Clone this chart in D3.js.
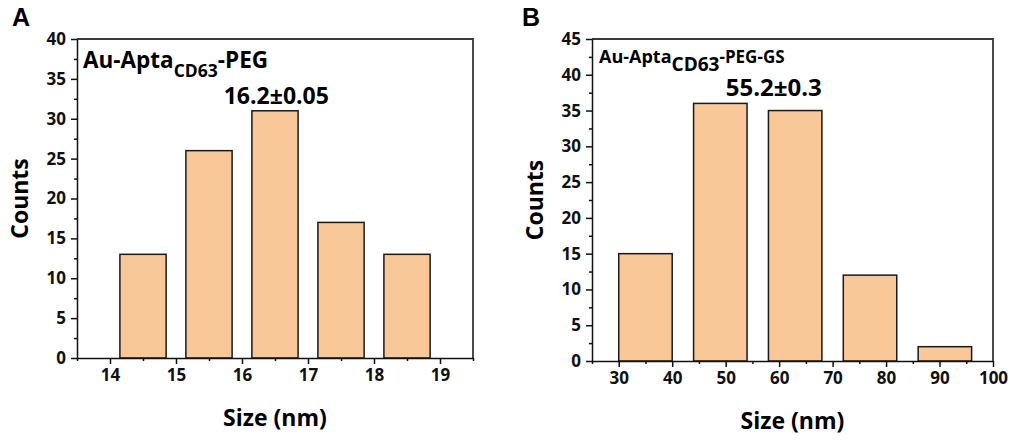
<!DOCTYPE html>
<html>
<head>
<meta charset="utf-8">
<script src="https://cdn.jsdelivr.net/npm/d3@7"></script>
<style>
	body { margin: 0; background: #fff; }
	svg { display: block; font-family: "Open Sans", sans-serif; font-weight: bold; }
</style>
</head>
<body>
<div id="chart"></div>
<script>

// ------------------------ data ------------------------------

// panel A : Au-Apta(CD63)-PEG
var sizes_A = [14.5, 15.5, 16.5, 17.5, 18.5];
var counts_A = [13, 26, 31, 17, 13];
var binWidth_A = 0.7;
var xTicks_A = [14, 15, 16, 17, 18, 19];
var yTicks_A = [0, 5, 10, 15, 20, 25, 30, 35, 40];

// panel B : Au-Apta(CD63)-PEG-GS
var sizes_B = [35, 49, 63, 77, 91];
var counts_B = [15, 36, 35, 12, 2];
var binWidth_B = 10;
var xTicks_B = [30, 40, 50, 60, 70, 80, 90, 100];
var yTicks_B = [0, 5, 10, 15, 20, 25, 30, 35, 40, 45];

var svg = d3.select("#chart").append("svg")
		.attr("width", 1012)
		.attr("height", 441)
		.attr("viewBox", "0 0 1012 441");


// ------------------------ histogram builder ------------------------------

var build_histogram = function(o) {

	var width = o.width, height = o.height;

	var g = svg.append("g")
			.attr("transform", "translate(" + o.left + "," + o.top + ")");

	// set the ranges
	var x = d3.scaleLinear().domain(o.xDomain).range([0, width]);
	var y = d3.scaleLinear().domain(o.yDomain).range([height, 0]);

	// minor ticks half way between the majors
	var xStep = o.xTicks[1] - o.xTicks[0],
		yStep = o.yTicks[1] - o.yTicks[0];
	var xMinor = d3.range(o.xTicks[0] - xStep / 2, o.xDomain[1] + 1e-9, xStep).filter(function(v) { return v >= o.xDomain[0]; });
	var yMinor = d3.range(o.yTicks[0] + yStep / 2, o.yDomain[1], yStep);

	// frame (top + right)
	g.append("path")
		.attr("d", "M0,0H" + width + "V" + height)
		.attr("fill", "none")
		.attr("stroke", "#3a3a3a")
		.attr("stroke-width", 1.8);

	// the bars
	var bins = o.sizes.map(function(s, i) { return { size: s, count: o.counts[i] }; });
	g.append("g").selectAll(".bar")
		.data(bins)
		.enter().append("rect")
			.attr("class", "bar")
			.attr("x", function(d) { return x(d.size - o.binWidth / 2); })
			.attr("width", function(d) { return x(d.size + o.binWidth / 2) - x(d.size - o.binWidth / 2); })
			.attr("y", function(d) { return y(d.count); })
			.attr("height", function(d) { return height - y(d.count); })
			.attr("fill", "#f9c898")
			.attr("stroke", "#1a1a1a")
			.attr("stroke-width", 1.5);

	// x axis, major + minor
	g.append("g")
			.attr("transform", "translate(0," + height + ")")
			.call(d3.axisBottom(x).tickValues(o.xTicks).tickSize(6).tickPadding(5).tickSizeOuter(0).tickFormat(d3.format("d")));
	g.append("g")
			.attr("transform", "translate(0," + height + ")")
			.call(d3.axisBottom(x).tickValues(xMinor).tickSize(3).tickSizeOuter(0).tickFormat(""))
			.select(".domain").remove();

	// y axis, major + minor
	g.append("g")
			.call(d3.axisLeft(y).tickValues(o.yTicks).tickSize(6).tickPadding(5).tickSizeOuter(0).tickFormat(d3.format("d")));
	g.append("g")
			.call(d3.axisLeft(y).tickValues(yMinor).tickSize(3).tickSizeOuter(0).tickFormat(""))
			.select(".domain").remove();

	g.selectAll(".domain, .tick line").attr("stroke", "#111").attr("stroke-width", 1.5);
	g.selectAll(".tick text")
		.attr("font-family", "'Open Sans', sans-serif")
		.attr("font-weight", "bold")
		.attr("font-size", 17)
		.attr("fill", "#111");

	// axis titles
	g.append("text")
		.attr("x", width / 2)
		.attr("y", height + 68)
		.attr("text-anchor", "middle")
		.attr("font-size", 23)
		.text("Size (nm)");

	g.append("text")
		.attr("transform", "translate(" + o.countsX + "," + (height / 2) + ") rotate(-90)")
		.attr("text-anchor", "middle")
		.attr("font-size", 23)
		.attr("dy", "0.35em")
		.text("Counts");

	// sample name with subscript
	var name = g.append("text")
		.attr("x", o.name.x)
		.attr("y", o.name.y);
	name.append("tspan").attr("font-size", o.name.size).text("Au-Apta");
	name.append("tspan").attr("font-size", o.name.subSize).attr("dy", o.name.shift).text("CD63");
	name.append("tspan").attr("font-size", o.name.tailSize).attr("dy", -o.name.shift).text(o.name.tail);

	// mean size annotation
	g.append("text")
		.attr("x", x(o.note.at))
		.attr("y", y(o.note.count) - 7)
		.attr("text-anchor", "middle")
		.attr("font-size", o.note.size)
		.text(o.note.text);

	// panel letter
	svg.append("text")
		.attr("x", o.letterX)
		.attr("y", 26)
		.attr("font-family", "'Liberation Sans', Arial, sans-serif")
		.attr("font-size", 25)
		.attr("font-weight", "bold")
		.text(o.letter);
};


// ------------------------ panel A ------------------------------

build_histogram({
	left: 77, top: 39, width: 396, height: 319,
	xDomain: [13.5, 19.5], yDomain: [0, 40],
	sizes: sizes_A, counts: counts_A, binWidth: binWidth_A,
	xTicks: xTicks_A, yTicks: yTicks_A,
	countsX: -57,
	name: { x: 6, y: 29, size: 22.5, subSize: 17.5, tailSize: 22.5, shift: 8.5, tail: "-PEG" },
	note: { at: 16.52, count: 31, size: 23, text: "16.2\u00b10.05" },
	letter: "A", letterX: 12
});

// ------------------------ panel B ------------------------------

build_histogram({
	left: 592, top: 39, width: 401, height: 322,
	xDomain: [25, 100], yDomain: [0, 45],
	sizes: sizes_B, counts: counts_B, binWidth: binWidth_B,
	xTicks: xTicks_B, yTicks: yTicks_B,
	countsX: -57,
	name: { x: 7, y: 24, size: 18, subSize: 19, tailSize: 17, shift: 8, tail: "-PEG-GS" },
	note: { at: 59, count: 36, size: 24, text: "55.2\u00b10.3" },
	letter: "B", letterX: 522
});

</script>
</body>
</html>
